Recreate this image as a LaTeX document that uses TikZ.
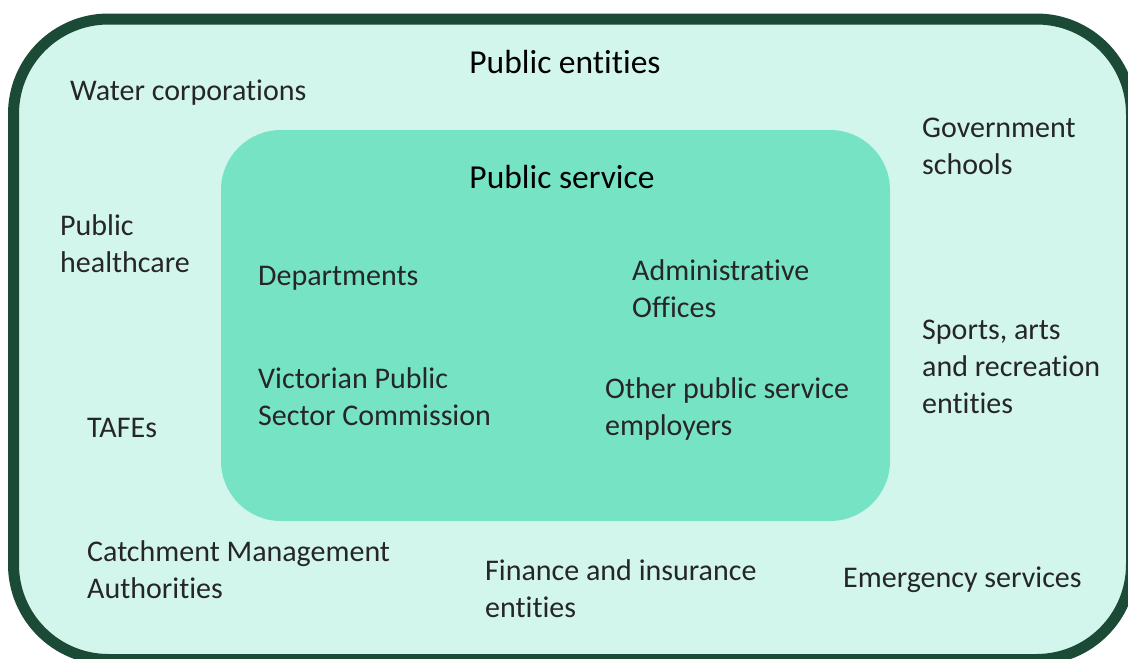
\documentclass[tikz,border=0pt]{standalone}
\usepackage{fontspec}
\setmainfont[Ligatures=NoCommon]{Carlito}
\usetikzlibrary{positioning}
\definecolor{outerfill}{HTML}{D2F5EC}
\definecolor{innerfill}{HTML}{77E3C5}
\definecolor{outerline}{HTML}{1B4A37}
\tikzset{
  lbl/.style={anchor=base west, align=left, inner sep=0pt, text=black!85,
    font=\fontsize{30}{37}\selectfont},
  ttl/.style={anchor=base, inner sep=0pt, text=black,
    font=\fontsize{33.5}{40}\selectfont}
}
\begin{document}
\begin{tikzpicture}[x=1pt, y=-1pt]
        \useasboundingbox (0,0) rectangle (1128,659);
        \clip (0,0) rectangle (1128,659);
        % outer and inner boxes
        \draw[outerline, line width=11pt, fill=outerfill, rounded corners=95pt] (13.5,19) rectangle (1131.5,659.5);
        \fill[innerfill, rounded corners=60pt] (221,130) rectangle (890,521);

        \node[ttl] (entities) at (565,73) {Public entities};
        \node[ttl] (service) at (562,188) {Public service};

        % labels: base = last line
        \node[lbl] (water) at (70,100) {Water corporations};
        \node[lbl] (schools) at (922,174) {Government\\schools};
        \node[lbl] (health) at (60,272) {Public\\healthcare};
        \node[lbl] (tafe) at (87,437) {TAFEs};
        \node[lbl] (catch) at (87,598) {Catchment Management\\Authorities};
        \node[lbl] (finance) at (485,617) {Finance and insurance\\entities};
        \node[lbl] (emerg) at (843,587) {Emergency services};
        \node[lbl] (sports) at (922,413) {Sports, arts\\and recreation\\entities};

        \node[lbl] (dept) at (258,285) {Departments};
        \node[lbl] (admin) at (632,317) {Administrative\\Offices};
        \node[lbl] (vpsc) at (258,425) {Victorian Public\\Sector Commission};
        \node[lbl] (other) at (605,435) {Other public service\\employers};
\end{tikzpicture}
\end{document}
